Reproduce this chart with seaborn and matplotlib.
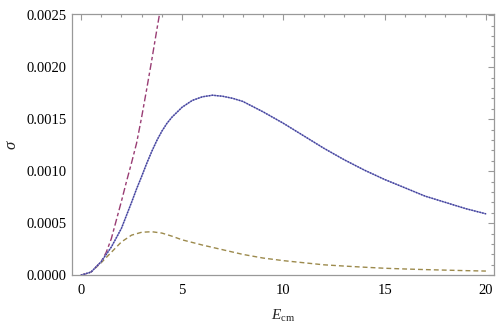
import matplotlib
matplotlib.use("Agg")
import matplotlib.pyplot as plt
from matplotlib.ticker import MultipleLocator, FormatStrFormatter
import seaborn as sns
import pandas as pd

# Data
x_blue = [0, 0.5, 1, 1.5, 2, 2.5, 2.75, 3, 3.25, 3.5, 3.75, 4, 4.25, 4.5, 5,
          5.5, 6, 6.5, 7, 7.5, 8, 9, 10, 11, 12, 13, 14, 15, 16, 17, 18, 19, 20]
y_blue = [0, 0.03, 0.13, 0.27, 0.45, 0.70, 0.83, 0.95, 1.075, 1.19, 1.295,
          1.385, 1.46, 1.52, 1.615, 1.68, 1.715, 1.73, 1.72, 1.70, 1.67, 1.57,
          1.46, 1.34, 1.22, 1.11, 1.01, 0.92, 0.84, 0.76, 0.70, 0.64, 0.59]
x_red = [0, 0.5, 1.0, 1.25, 1.5, 1.75, 2.0, 2.25, 2.5, 2.75, 3.0, 3.25, 3.5,
         3.75, 3.9]
y_red = [0, 0.03, 0.13, 0.22, 0.35, 0.53, 0.71, 0.90, 1.08, 1.27, 1.52, 1.79,
         2.07, 2.36, 2.53]
x_olive = [0, 0.5, 1, 1.5, 2, 2.5, 3, 3.5, 4, 4.5, 5, 6, 7, 8, 9, 10, 11, 12,
           13, 14, 15, 16, 17, 18, 19, 20]
y_olive = [0, 0.03, 0.12, 0.22, 0.32, 0.385, 0.413, 0.418, 0.405, 0.375,
           0.34, 0.29, 0.245, 0.20, 0.165, 0.14, 0.12, 0.10, 0.088, 0.077,
           0.067, 0.060, 0.054, 0.049, 0.044, 0.040]
scale = 1e-3

sns.set_theme(style="white")
plt.rcParams["font.family"] = ["Liberation Serif", "DejaVu Serif"]
plt.rcParams["mathtext.fontset"] = "custom"
plt.rcParams["mathtext.rm"] = "Liberation Serif"
plt.rcParams["mathtext.it"] = "Liberation Serif:italic"

fig = plt.figure(figsize=(5, 3.3), dpi=100)
ax = fig.add_axes([0.144, 0.166, 0.844, 0.792])

df_b = pd.DataFrame({"x": x_blue, "y": [v * scale for v in y_blue]})
df_r = pd.DataFrame({"x": x_red, "y": [v * scale for v in y_red]})
df_o = pd.DataFrame({"x": x_olive, "y": [v * scale for v in y_olive]})

sns.lineplot(data=df_o, x="x", y="y", ax=ax, color="#9c8a4c", lw=1.0,
             linestyle=(0, (3.5, 2.2)), sort=False)
sns.lineplot(data=df_r, x="x", y="y", ax=ax, color="#993d74", lw=1.0,
             linestyle=(0, (5, 2, 2.5, 2)), sort=False)
sns.lineplot(data=df_b, x="x", y="y", ax=ax, color="#8a8ac8", lw=1.0,
             sort=False)
sns.lineplot(data=df_b, x="x", y="y", ax=ax, color="#3d3d99", lw=1.0,
             linestyle=(0, (1, 1)), sort=False)

ax.set_xlim(-0.44, 20.4)
ax.set_ylim(0, 0.002512)
ax.xaxis.set_major_locator(MultipleLocator(5))
ax.xaxis.set_minor_locator(MultipleLocator(1))
ax.yaxis.set_major_locator(MultipleLocator(0.0005))
ax.yaxis.set_minor_locator(MultipleLocator(0.0001))
ax.yaxis.set_major_formatter(FormatStrFormatter("%.4f"))
ax.xaxis.set_major_formatter(FormatStrFormatter("%d"))

for s in ax.spines.values():
    s.set_color("#999999")
    s.set_linewidth(0.9)
ax.tick_params(which="both", direction="in", top=True, right=True,
               color="#999999", width=0.8, labelsize=10.5, labelcolor="black")
ax.tick_params(which="major", length=4, pad=4)
ax.tick_params(which="minor", length=2.3)
ax.tick_params(axis="x", pad=6)

ax.set_xlabel(r"$E_{\mathrm{cm}}$", fontsize=11, labelpad=8)
ax.set_ylabel(r"$\sigma$", fontsize=12, va="center")
ax.yaxis.set_label_coords(-0.142, 0.5)

fig.savefig("out.png", dpi=100)
